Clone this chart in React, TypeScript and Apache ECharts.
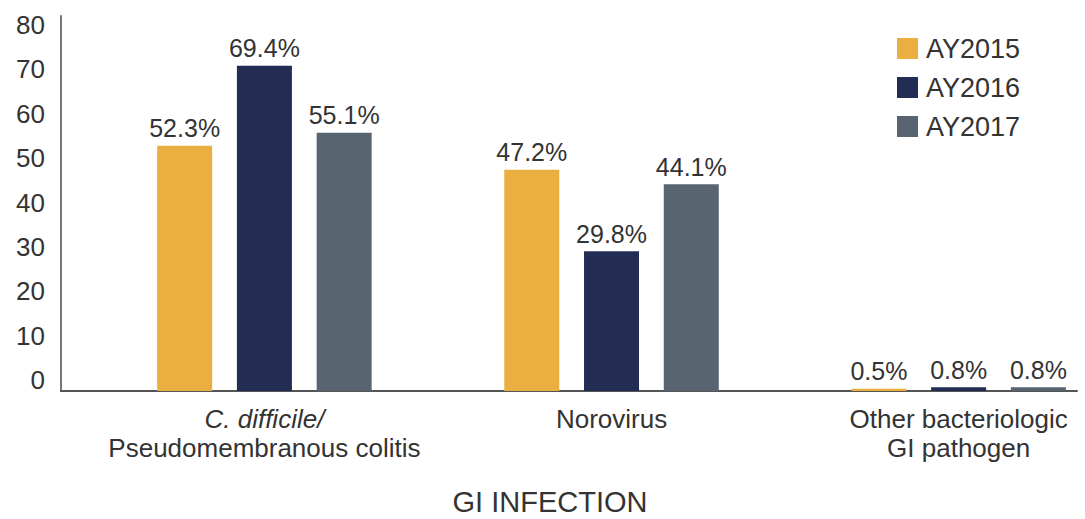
import React, { useEffect, useRef } from "react";
import * as echarts from "echarts";

const categories = ["C. difficile/|Pseudomembranous colitis", "Norovirus", "Other bacteriologic|GI pathogen"];
const seriesNames = ["AY2015", "AY2016", "AY2017"];
const ay2015 = [52.3, 47.2, 0.5];
const ay2016 = [69.4, 29.8, 0.8];
const ay2017 = [55.1, 44.1, 0.8];
const yTicks = [0, 10, 20, 30, 40, 50, 60, 70, 80];
const colors = ["#EAAF40", "#232C53", "#58646F"];

const FONT = "'Liberation Sans', Arial, Helvetica, sans-serif";

export default function App() {
  const ref = useRef<HTMLDivElement>(null);
  useEffect(() => {
    if (!ref.current) return;
    const chart = echarts.init(ref.current, undefined, { renderer: "svg" });
    const values = [ay2015, ay2016, ay2017];
    const catLabel = (v: number) => {
      const idx = Math.round(v);
      const c = categories[idx];
      if (!c) return "";
      if (idx === 0) {
        const [a, b] = c.split("|");
        return `{i|${a}}\n{n|${b}}`;
      }
      return c
        .split("|")
        .map((s) => `{n|${s}}`)
        .join("\n");
    };
    chart.setOption({
      animation: false,
      backgroundColor: "#ffffff",
      textStyle: { fontFamily: FONT },
      legend: {
        orient: "vertical",
        left: 892,
        top: 30,
        itemWidth: 21,
        itemHeight: 21,
        itemGap: 12,
        icon: "rect",
        textStyle: { fontSize: 27, color: "#333", fontFamily: FONT, padding: [0, 0, 0, 3] },
        data: seriesNames,
      },
      grid: [
        { left: 61, top: 16, right: 8, height: 375, containLabel: false, outerBoundsMode: "none" },
        { left: 61, top: 25, right: 8, height: 355, containLabel: false, outerBoundsMode: "none" },
      ],
      xAxis: [
        {
          type: "value",
          gridIndex: 0,
          min: -0.586,
          max: 2.341,
          splitLine: { show: false },
          axisTick: { show: false },
          axisLine: { show: true, onZero: false, lineStyle: { color: "#555", width: 2 } },
          axisLabel: {
            customValues: [0, 1, 2],
            formatter: catLabel,
            margin: 13,
            rich: {
              i: { fontStyle: "italic", fontSize: 26, color: "#333", fontFamily: FONT, lineHeight: 29 },
              n: { fontSize: 26, color: "#333", fontFamily: FONT, lineHeight: 29 },
            },
          },
          name: "GI INFECTION",
          nameLocation: "middle",
          nameGap: 96,
          nameTextStyle: { fontSize: 29, color: "#333", fontFamily: FONT, padding: [0, 38, 0, 0] },
        },
        { type: "value", gridIndex: 1, show: false, min: 0, max: 1 },
      ],
      yAxis: [
        {
          type: "value",
          gridIndex: 0,
          min: yTicks[0],
          max: yTicks[yTicks.length - 1],
          interval: 10,
          axisLabel: { show: false },
          axisTick: { show: false },
          splitLine: { show: false },
          axisLine: { show: true, onZero: false, lineStyle: { color: "#777", width: 2 } },
        },
        {
          type: "value",
          gridIndex: 1,
          min: yTicks[0],
          max: yTicks[yTicks.length - 1],
          interval: 10,
          axisLine: { show: false },
          axisTick: { show: false },
          splitLine: { show: false },
          axisLabel: { fontSize: 26, color: "#333", fontFamily: FONT, margin: 16 },
        },
      ],
      series: seriesNames.map((name, si) => ({
        name,
        type: "bar",
        xAxisIndex: 0,
        yAxisIndex: 0,
        barWidth: 55,
        barGap: "45%",
        itemStyle: { color: colors[si] },
        label: {
          show: true,
          position: "top",
          distance: 5,
          formatter: (p: any) => `${p.value[1]}%`,
          fontSize: 25,
          color: "#333",
          fontFamily: FONT,
        },
        data: values[si].map((v, i) => [i, v]),
      })),
    });
    return () => chart.dispose();
  }, []);
  return (
    <div
      ref={ref}
      style={{ position: "fixed", left: 0, top: 0, width: 1085, height: 519 }}
    />
  );
}
